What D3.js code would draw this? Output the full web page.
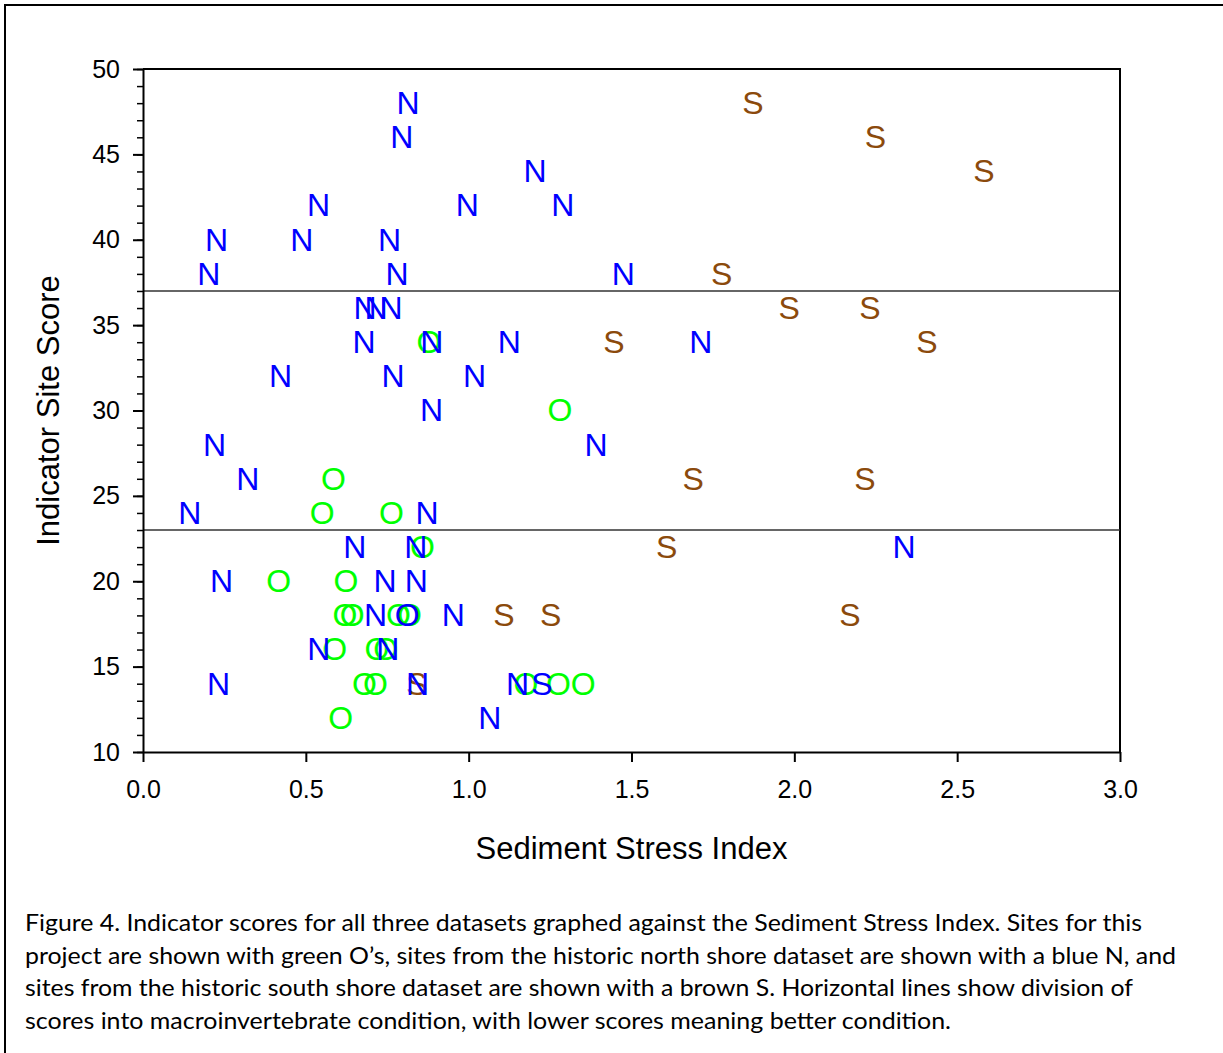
<!DOCTYPE html>
<html>
<head>
<meta charset="utf-8">
<script src="https://cdn.jsdelivr.net/npm/d3@7"></script>
<style>
  body { margin: 0; background: #fff; }
  svg { display: block; }
  .tick text { font-family: "Liberation Sans", Arial, sans-serif; }
</style>
</head>
<body>
<div id="graph"></div>
<script>
// Values (x = Sediment Stress Index, y = Indicator Site Score)
const northX = [0.814, 0.795, 1.204, 0.539, 0.996, 1.289, 0.226, 0.488, 0.757, 0.202, 0.780, 1.475,
    0.682, 0.716, 0.762, 0.679, 0.887, 1.125, 1.713, 0.422, 0.768, 1.018, 0.886, 0.220, 1.391,
    0.322, 0.144, 0.872, 0.650, 0.838, 2.337, 0.241, 0.743, 0.839, 0.714, 0.953, 0.540, 0.752,
    0.232, 0.843, 1.150, 1.065];
const northY = [48, 46, 44, 42, 42, 42, 40, 40, 40, 38, 38, 38,
    36, 36, 36, 34, 34, 34, 34, 32, 32, 32, 30, 28, 28,
    26, 24, 24, 22, 22, 22, 20, 20, 20, 18, 18, 16, 16,
    14, 14, 14, 12];
// two blue points in the original are drawn with another letter
const northOddX = [0.811, 1.225];
const northOddY = [18, 14];
const northOddMark = ["O", "S"];

const projectX = [0.878, 1.280, 0.585, 0.550, 0.763, 0.858, 0.417, 0.623, 0.620, 0.642, 0.784,
    0.818, 0.589, 0.718, 0.745, 0.680, 0.714, 1.176, 1.276, 1.352, 0.607];
const projectY = [34, 30, 26, 24, 24, 22, 20, 20, 18, 18, 18,
    18, 16, 16, 16, 14, 14, 14, 14, 14, 12];

const southX = [1.873, 2.249, 2.582, 1.777, 1.984, 2.232, 1.446, 2.407, 1.689, 2.217, 1.608,
    1.108, 1.252, 2.171, 0.841];
const southY = [48, 46, 44, 38, 36, 36, 34, 34, 26, 26, 22,
    18, 18, 18, 14];

const conditionLines = [23, 37];
const xTicks = [0, 0.5, 1.0, 1.5, 2.0, 2.5, 3.0];
const yTicks = [10, 15, 20, 25, 30, 35, 40, 45, 50];
const yMinorTicks = d3.range(10, 51, 1);

const xTitle = "Sediment Stress Index";
const yTitle = "Indicator Site Score";
const captionLines = [
    "Figure 4. Indicator scores for all three datasets graphed against the Sediment Stress Index. Sites for this",
    "project are shown with green O\u2019s, sites from the historic north shore dataset are shown with a blue N, and",
    "sites from the historic south shore dataset are shown with a brown S. Horizontal lines show division of",
    "scores into macroinvertebrate condition, with lower scores meaning better condition."
];

const width = 1223, height = 1053;
const plot = { left: 143, right: 1120, top: 69, bottom: 752 };
const markFont = "Liberation Sans, Arial, sans-serif";

const svg = d3.select("#graph").append("svg")
    .attr("width", width)
    .attr("height", height);

// Outer figure border (only left and top edges fall inside the picture)
svg.append("rect")
    .attr("x", 5).attr("y", 5)
    .attr("width", width + 20).attr("height", height + 20)
    .attr("fill", "none").attr("stroke", "#000").attr("stroke-width", 2);

const xScale = d3.scaleLinear().domain([0, 3]).range([plot.left, plot.right]);
const yScale = d3.scaleLinear().domain([10, 50]).range([plot.bottom, plot.top]);

// Plot frame: top and right edges
svg.append("path")
    .attr("d", `M${plot.left},${plot.top}H${plot.right}V${plot.bottom}`)
    .attr("fill", "none").attr("stroke", "#000").attr("stroke-width", 2);

// Horizontal condition division lines
svg.append("g").selectAll("line").data(conditionLines).join("line")
    .attr("x1", plot.left).attr("x2", plot.right)
    .attr("y1", d => yScale(d)).attr("y2", d => yScale(d))
    .attr("stroke", "#333").attr("stroke-width", 1.5);

// Left axis: minor ticks then major ticks
svg.append("g")
    .attr("transform", `translate(${plot.left},0)`)
    .call(d3.axisLeft(yScale).tickValues(yMinorTicks).tickSize(6).tickFormat(""))
    .call(g => g.select(".domain").remove())
    .call(g => g.selectAll("line").attr("stroke-width", 1.5));

const leftAxis = svg.append("g")
    .attr("transform", `translate(${plot.left},0)`)
    .call(d3.axisLeft(yScale).tickValues(yTicks).tickSize(10).tickSizeOuter(0).tickPadding(13).tickFormat(d3.format("d")));
leftAxis.select(".domain").attr("stroke-width", 2);
leftAxis.selectAll(".tick line").attr("stroke-width", 2);
leftAxis.selectAll(".tick text").attr("font-size", 25).attr("fill", "#000");

const bottomAxis = svg.append("g")
    .attr("transform", `translate(0,${plot.bottom})`)
    .call(d3.axisBottom(xScale).tickValues(xTicks).tickSize(10).tickSizeOuter(0).tickPadding(18).tickFormat(d3.format(".1f")));
bottomAxis.select(".domain").attr("stroke-width", 2);
bottomAxis.selectAll(".tick line").attr("stroke-width", 2);
bottomAxis.selectAll(".tick text").attr("font-size", 25).attr("fill", "#000");

// Axis titles
svg.append("text")
    .attr("x", (plot.left + plot.right) / 2).attr("y", 859)
    .attr("text-anchor", "middle")
    .attr("font-family", markFont).attr("font-size", 31)
    .text(xTitle);

svg.append("text")
    .attr("text-anchor", "middle")
    .attr("transform", `translate(59,${(plot.top + plot.bottom) / 2}) rotate(-90)`)
    .attr("font-family", markFont).attr("font-size", 31)
    .text(yTitle);

// Letter markers, drawn green first, then brown, then blue on top
function drawMarks(xs, ys, marks, color) {
    const data = xs.map((x, i) => ({ x: x, y: ys[i], mark: typeof marks === "string" ? marks : marks[i] }));
    svg.append("g").selectAll("text").data(data).join("text")
        .attr("x", d => xScale(d.x))
        .attr("y", d => yScale(d.y))
        .attr("dy", "0.34em")
        .attr("text-anchor", "middle")
        .attr("font-family", markFont)
        .attr("font-size", 32)
        .attr("fill", color)
        .text(d => d.mark);
}

drawMarks(projectX, projectY, "O", "#00ff00");
drawMarks(southX, southY, "S", "#8b4a0c");
drawMarks(northX, northY, "N", "#0000ff");
drawMarks(northOddX, northOddY, northOddMark, "#0000ff");

// Caption below the chart
const captionWidths = [1117, 1151, 1108, 926];
svg.append("g").selectAll("text").data(captionLines).join("text")
    .attr("x", 25)
    .attr("y", (d, i) => 931 + i * 32.7)
    .attr("font-family", "Lato, 'Open Sans', sans-serif")
    .attr("font-size", 23)
    .attr("fill", "#000")
    .attr("textLength", (d, i) => captionWidths[i])
    .attr("lengthAdjust", "spacingAndGlyphs")
    .text(d => d);
</script>
</body>
</html>
